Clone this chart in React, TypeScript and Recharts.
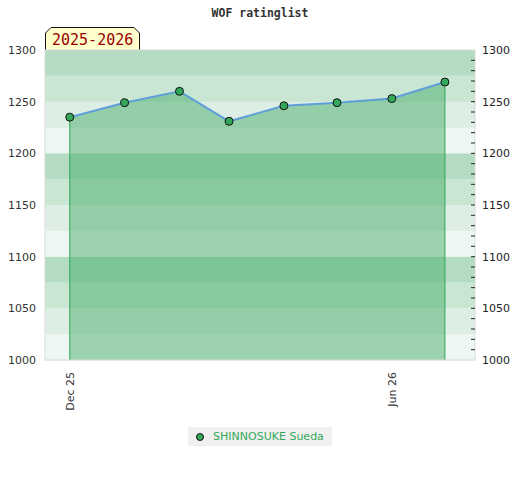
import React from "react";
import {
  ComposedChart,
  Area,
  Line,
  XAxis,
  YAxis,
  ReferenceArea,
  ReferenceLine,
  CartesianGrid,
  Legend,
} from "recharts";

const TITLE = "WOF ratinglist";
const SEASON = "2025-2026";
const PLAYER = "SHINNOSUKE Sueda";

// monthly rating snapshots
const dates = [
  "2025-12-01",
  "2026-01-01",
  "2026-02-01",
  "2026-03-01",
  "2026-04-01",
  "2026-05-01",
  "2026-06-01",
  "2026-07-01",
];
const ratings = [1235, 1249, 1260, 1231, 1246, 1249, 1253, 1269];

const xTickDates = ["2025-12-01", "2026-06-01"];
const xTickLabels = ["Dec 25", "Jun 26"];

const yLabels = [1000, 1050, 1100, 1150, 1200, 1250, 1300];
const bandStarts = [1000, 1025, 1050, 1075, 1100, 1125, 1150, 1175, 1200, 1225, 1250, 1275];

const DAY = 86400000;
const ts = (d: string) => new Date(d + "T00:00:00Z").getTime();

const data = dates.map((d, i) => ({ t: ts(d), rating: ratings[i] }));
const xDomain = [ts(dates[0]) - 14 * DAY, ts(dates[dates.length - 1]) + 17 * DAY];
const minorTicks = Array.from({ length: 31 }, (_, i) => 1000 + i * 10);

// band shade by position inside each 100 block
const bandColor = (lo: number) =>
  ({ 75: "#b3dcc3", 50: "#c9e6d3", 25: "#ddefe4", 0: "#eff7f2" } as Record<number, string>)[lo % 100];

const FONT = "'DejaVu Sans', sans-serif";
const MONO = "'DejaVu Sans Mono', monospace";

function RightTick(props: any) {
  const { x, y, payload } = props;
  const v = payload.value;
  return (
    <g>
      {v < 1300 && v > 1000 && <line x1={x - 4} x2={x} y1={y} y2={y} stroke="#222" />}
      {v % 50 === 0 && (
        <text x={x + 7} y={y} dy="0.35em" fontSize={11} fontFamily={FONT} fill="#222">
          {v}
        </text>
      )}
    </g>
  );
}

function DateTick(props: any) {
  const { x, y, payload } = props;
  const idx = xTickDates.findIndex((d) => ts(d) === payload.value);
  return (
    <text
      x={x}
      y={y}
      dy="0.35em"
      transform={`rotate(-90, ${x}, ${y})`}
      textAnchor="end"
      fontSize={11}
      fontFamily={FONT}
      fill="#333"
    >
      {xTickLabels[idx]}
    </text>
  );
}

function LegendBox() {
  return (
    <div style={{ display: "flex", justifyContent: "center" }}>
      <div
        style={{
          height: 19,
          background: "#f0f0f0",
          display: "flex",
          alignItems: "center",
          padding: "0 8px 0 7px",
          fontFamily: FONT,
          fontSize: 11,
          color: "#34a85a",
        }}
      >
        <svg width={10} height={10} style={{ marginRight: 8 }}>
          <circle cx={5} cy={5} r={3.5} fill="#34a85a" stroke="#111" />
        </svg>
        {PLAYER}
      </div>
    </div>
  );
}

export default function App() {
  const first = data[0];
  const last = data[data.length - 1];
  return (
    <div style={{ position: "absolute", left: 0, top: 0, width: 520, height: 480, background: "#fff" }}>
      <ComposedChart width={520} height={480} data={data} margin={{ top: 50, right: 0, left: 0, bottom: 34 }}>
        {bandStarts.map((lo) => (
          <ReferenceArea
            key={lo}
            yAxisId="left"
            y1={lo}
            y2={lo + 25}
            fill={bandColor(lo)}
            fillOpacity={1}
            stroke="none"
            ifOverflow="hidden"
          />
        ))}
        <CartesianGrid
          yAxisId="left"
          vertical={false}
          horizontalValues={bandStarts}
          stroke="#e6eee9"
          strokeWidth={1}
        />
        <XAxis
          dataKey="t"
          type="number"
          scale="time"
          domain={xDomain}
          ticks={xTickDates.map(ts)}
          tick={<DateTick />}
          tickLine={false}
          tickMargin={6}
          height={67}
          axisLine={{ stroke: "#d9d9d9" }}
        />
        <YAxis
          yAxisId="left"
          domain={[1000, 1300]}
          ticks={yLabels}
          width={45}
          tickLine={false}
          tickMargin={3}
          axisLine={{ stroke: "#d9d9d9" }}
          tick={{ fontSize: 11, fontFamily: FONT, fill: "#333" }}
        />
        <YAxis
          yAxisId="right"
          orientation="right"
          domain={[1000, 1300]}
          ticks={minorTicks}
          width={45}
          tickLine={false}
          tickSize={0}
          tickMargin={0}
          interval={0}
          axisLine={{ stroke: "#d9d9d9" }}
          tick={<RightTick />}
        />
        <ReferenceLine yAxisId="left" y={1300} stroke="#d9d9d9" />
        <Area
          yAxisId="left"
          type="linear"
          dataKey="rating"
          name={PLAYER}
          stroke="#5f9fd9"
          strokeWidth={2}
          fill="#42aa67"
          fillOpacity={0.48}
          dot={{ r: 4, fill: "#34a85a", stroke: "#111", strokeWidth: 1, fillOpacity: 1 }}
          activeDot={false}
          isAnimationActive={false}
        />
        {/* invisible twin so the right axis gets a series */}
        <Line
          yAxisId="right"
          type="linear"
          dataKey="rating"
          stroke="none"
          dot={false}
          activeDot={false}
          legendType="none"
          isAnimationActive={false}
        />
        <ReferenceLine
          yAxisId="left"
          segment={[
            { x: first.t, y: 1000 },
            { x: first.t, y: first.rating },
          ]}
          stroke="#2ea856"
        />
        <ReferenceLine
          yAxisId="left"
          segment={[
            { x: last.t, y: 1000 },
            { x: last.t, y: last.rating },
          ]}
          stroke="#2ea856"
        />
        <Legend verticalAlign="bottom" height={19} content={<LegendBox />} />
        <text x={260} y={17} textAnchor="middle" fontSize={11.5} fontWeight="bold" fontFamily={MONO} fill="#333">
          {TITLE}
        </text>
        <g>
          <path d="M45.5,50 L45.5,33 L51,27.5 L134,27.5 L139.5,33 L139.5,50" fill="#ffffcc" stroke="#111" />
          <text x={52} y={45} fontSize={15} fontFamily={MONO} fill="#990000">
            {SEASON}
          </text>
        </g>
      </ComposedChart>
    </div>
  );
}
